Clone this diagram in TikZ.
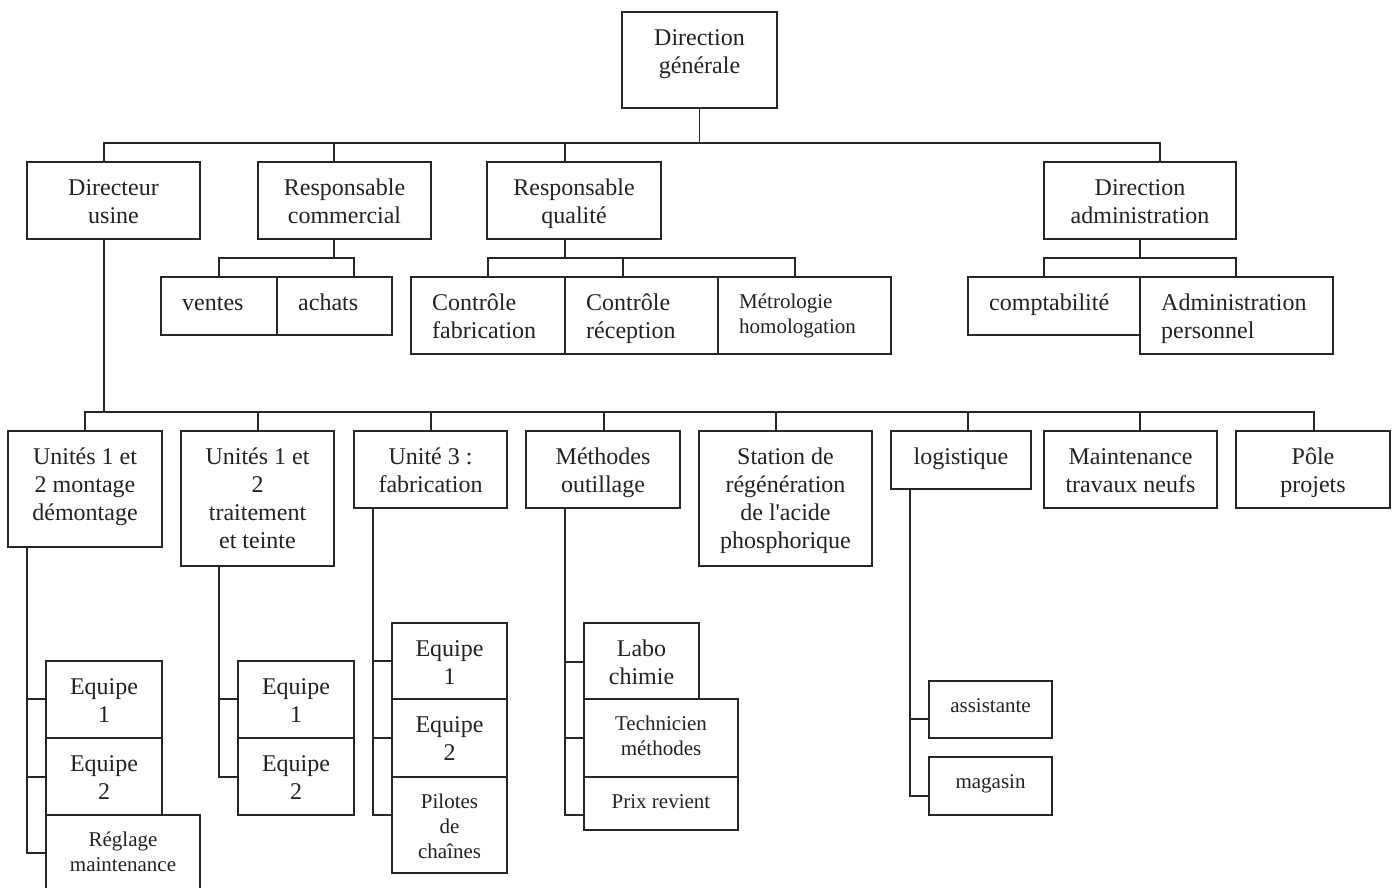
\documentclass[tikz,border=0pt]{standalone}
\usepackage{fontspec}
\setmainfont{Liberation Serif}
\newfontfamily\plainserif{Liberation Serif}
\usetikzlibrary{fit,calc}
\definecolor{ink}{HTML}{262626}
\definecolor{txtc}{HTML}{222222}
\tikzset{
 box/.style={draw=ink, line width=1.5pt, inner sep=0pt, outer sep=0pt, fill=white},
 con/.style={draw=ink, line width=1.5pt, line cap=rect},
 big/.style={font=\fontsize{24pt}{28pt}\selectfont, inner sep=0pt, text=txtc},
 small/.style={font=\fontsize{21pt}{25pt}\selectfont, inner sep=0pt, text=txtc},
}
\newcommand\orgbox[5]{\node[box, fit={(#2,#3) (#4,#5)}] (#1) {};}
\newcommand\txtbc[2]{\node[big,anchor=north,align=center] (#1t) at ([yshift=-16pt]#1.north) {\rule{0pt}{17pt}#2};}
\newcommand\txtsc[2]{\node[small,anchor=north,align=center] (#1t) at ([yshift=-16pt]#1.north) {\rule{0pt}{15pt}#2};}
\newcommand\txtbl[2]{\node[big,anchor=north west,align=left] (#1t) at ([xshift=21pt,yshift=-16pt]#1.north west) {\rule{0pt}{17pt}#2};}
\newcommand\txtsl[2]{\node[small,anchor=north west,align=left] (#1t) at ([xshift=21pt,yshift=-16pt]#1.north west) {\rule{0pt}{15pt}#2};}
\begin{document}
\begin{tikzpicture}[x=1pt,y=-1pt]
\path[use as bounding box, fill=white] (0,0) rectangle (1397,888);
\clip (0,0) rectangle (1397,888);
% ---------- connectors ----------
\draw[con] (699.5,108) -- (699.5,143);
\draw[con] (104,143) -- (1160,143);
\foreach \x in {104,334,565,1160} \draw[con] (\x,143) -- (\x,162);
% commercial
\draw[con] (334,239) -- (334,258);
\draw[con] (219,258) -- (354,258);
\foreach \x in {219,354} \draw[con] (\x,258) -- (\x,277);
% qualite
\draw[con] (565,239) -- (565,258);
\draw[con] (488,258) -- (795,258);
\foreach \x in {488,623,795} \draw[con] (\x,258) -- (\x,277);
% administration
\draw[con] (1140,239) -- (1140,258);
\draw[con] (1044,258) -- (1236,258);
\foreach \x in {1044,1236} \draw[con] (\x,258) -- (\x,277);
% level 3
\draw[con] (104,239) -- (104,412);
\draw[con] (85,412) -- (1314,412);
\foreach \x in {85,258,431,604,776,968,1140,1314} \draw[con] (\x,412) -- (\x,431);
% unit 1 branch
\draw[con] (27,547) -- (27,853);
\foreach \y in {699,777,853} \draw[con] (27,\y) -- (46,\y);
% unit 2 branch
\draw[con] (219,566) -- (219,777);
\foreach \y in {699,777} \draw[con] (219,\y) -- (238,\y);
% unit 3 branch
\draw[con] (373,508) -- (373,815);
\foreach \y in {661,738,815} \draw[con] (373,\y) -- (392,\y);
% methodes branch
\draw[con] (565,508) -- (565,815);
\foreach \y in {662,738,815} \draw[con] (565,\y) -- (584,\y);
% logistique branch
\draw[con] (910,489) -- (910,796);
\foreach \y in {719,796} \draw[con] (910,\y) -- (929,\y);
% ---------- boxes ----------
\orgbox{dg}{622}{12}{777}{108}
\orgbox{du}{27}{162}{200}{239}
\orgbox{rc}{258}{162}{431}{239}
\orgbox{rq}{487}{162}{661}{239}
\orgbox{da}{1044}{162}{1236}{239}
\orgbox{ve}{161}{277}{277}{335}
\orgbox{ac}{277}{277}{392}{335}
\orgbox{cf}{411}{277}{565}{354}
\orgbox{cr}{565}{277}{718}{354}
\orgbox{mh}{718}{277}{891}{354}
\orgbox{co}{968}{277}{1140}{335}
\orgbox{ap}{1140}{277}{1333}{354}
\orgbox{ua}{8}{431}{162}{547}
\orgbox{ub}{181}{431}{334}{566}
\orgbox{uc}{354}{431}{507}{508}
\orgbox{mo}{526}{431}{680}{508}
\orgbox{st}{699}{431}{872}{566}
\orgbox{lo}{891}{431}{1031}{489}
\orgbox{mt}{1044}{431}{1217}{508}
\orgbox{pp}{1236}{431}{1390}{508}
\orgbox{ea}{46}{661}{162}{738}
\orgbox{eb}{46}{738}{162}{815}
\orgbox{rm}{46}{815}{200}{905}
\orgbox{ec}{238}{661}{354}{738}
\orgbox{ed}{238}{738}{354}{815}
\orgbox{ee}{392}{623}{507}{699}
\orgbox{ef}{392}{699}{507}{777}
\orgbox{pc}{392}{777}{507}{873}
\orgbox{lc}{584}{623}{699}{699}
\orgbox{tm}{584}{699}{738}{777}
\orgbox{pr}{584}{777}{738}{830}
\orgbox{as}{929}{681}{1052}{738}
\orgbox{mg}{929}{757}{1052}{815}
% ---------- texts ----------
\txtbc{dg}{Direction\\générale}
\txtbc{du}{Directeur\\usine}
\txtbc{rc}{Responsable\\commercial}
\txtbc{rq}{Responsable\\qualité}
\txtbc{da}{Direction\\administration}
\txtbl{ve}{ventes}
\txtbl{ac}{achats}
\txtbl{cf}{Contrôle\\fabrication}
\txtbl{cr}{Contrôle\\réception}
\txtsl{mh}{Métrologie\\homologation}
\txtbl{co}{comptabilité}
\txtbl{ap}{Administration\\personnel}
\txtbc{ua}{Unités 1 et\\2 montage\\démontage}
\txtbc{ub}{Unités 1 et\\2\\traitement\\et teinte}
\txtbc{uc}{Unité 3 :\\fabrication}
\txtbc{mo}{Méthodes\\outillage}
\txtbc{st}{Station de\\régénération\\de l{\plainserif '}acide\\phosphorique}
\txtbc{lo}{logistique}
\txtbc{mt}{Maintenance\\travaux neufs}
\txtbc{pp}{Pôle\\projets}
\txtbc{ea}{Equipe\\1}
\txtbc{eb}{Equipe\\2}
\txtsc{rm}{Réglage\\maintenance}
\txtbc{ec}{Equipe\\1}
\txtbc{ed}{Equipe\\2}
\txtbc{ee}{Equipe\\1}
\txtbc{ef}{Equipe\\2}
\txtsc{pc}{Pilotes\\de\\chaînes}
\txtbc{lc}{Labo\\chimie}
\txtsc{tm}{Technicien\\méthodes}
\txtsc{pr}{Prix revient}
\txtsc{as}{assistante}
\txtsc{mg}{magasin}
\end{tikzpicture}
\end{document}
